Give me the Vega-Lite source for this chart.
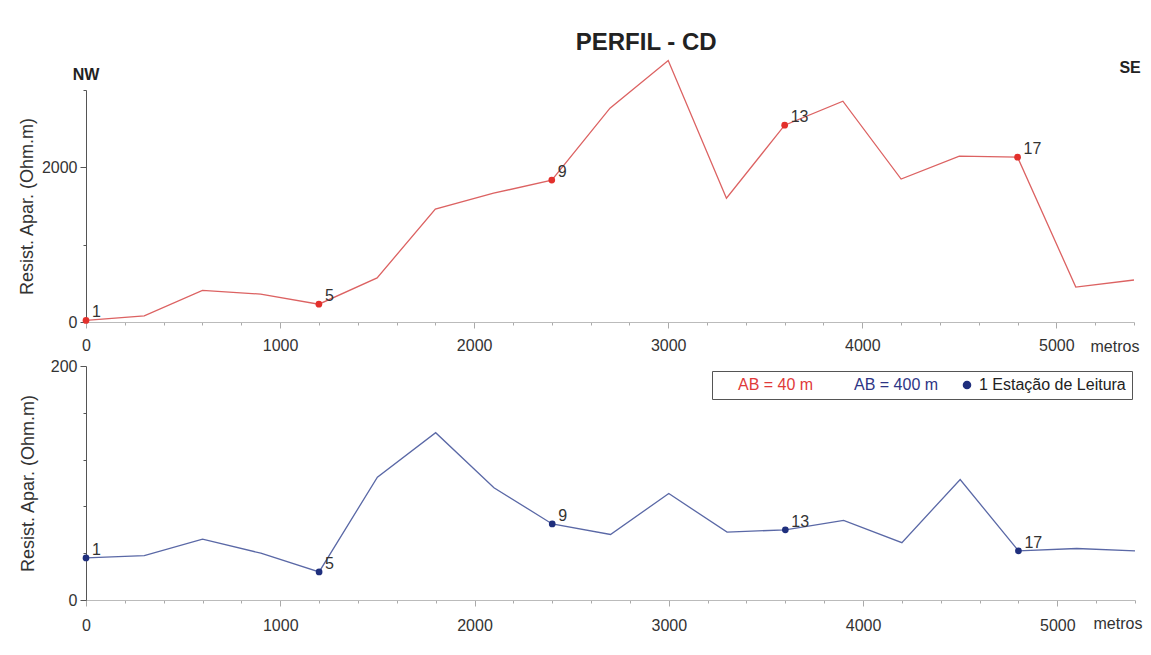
{
  "$schema": "https://vega.github.io/schema/vega-lite/v6.json",
  "padding": {"left": 18, "top": 31, "right": 5, "bottom": 10},
  "background": "white",
  "title": {"text": "PERFIL - CD", "fontSize": 24, "font": "Liberation Sans", "fontWeight": "bold", "color": "#222", "anchor": "middle", "dx": 66, "offset": 3},
  "datasets": {
    "perfil": [
      {"dist": 0, "ab40": 20, "ab400": 36, "station": "1"},
      {"dist": 300, "ab40": 80, "ab400": 38, "station": null},
      {"dist": 600, "ab40": 410, "ab400": 52, "station": null},
      {"dist": 900, "ab40": 360, "ab400": 40, "station": null},
      {"dist": 1200, "ab40": 230, "ab400": 24, "station": "5"},
      {"dist": 1500, "ab40": 570, "ab400": 105, "station": null},
      {"dist": 1800, "ab40": 1460, "ab400": 143, "station": null},
      {"dist": 2100, "ab40": 1665, "ab400": 96, "station": null},
      {"dist": 2400, "ab40": 1835, "ab400": 65, "station": "9"},
      {"dist": 2700, "ab40": 2765, "ab400": 56, "station": null},
      {"dist": 3000, "ab40": 3380, "ab400": 91, "station": null},
      {"dist": 3300, "ab40": 1600, "ab400": 58, "station": null},
      {"dist": 3600, "ab40": 2545, "ab400": 60, "station": "13"},
      {"dist": 3900, "ab40": 2855, "ab400": 68, "station": null},
      {"dist": 4200, "ab40": 1848, "ab400": 49, "station": null},
      {"dist": 4500, "ab40": 2145, "ab400": 103, "station": null},
      {"dist": 4800, "ab40": 2132, "ab400": 42, "station": "17"},
      {"dist": 5100, "ab40": 452, "ab400": 44, "station": null},
      {"dist": 5400, "ab40": 543, "ab400": 42, "station": null}
    ],
    "rumos": [
      {"label": "NW", "dist": 0, "ab40": 3190},
      {"label": "SE", "dist": 5380, "ab40": 3280}
    ]
  },
  "config": {
    "view": {"stroke": null},
    "font": "Liberation Sans",
    "axis": {"labelFont": "Liberation Sans", "labelFontSize": 16, "labelColor": "#333", "titleFont": "Liberation Sans", "grid": false}
  },
  "spacing": 4,
  "vconcat": [
    {
      "width": 1048,
      "height": 232,
      "data": {"name": "perfil"},
      "encoding": {
        "x": {
          "field": "dist", "type": "quantitative",
          "scale": {"domain": [0, 5400], "nice": false, "zero": false},
          "axis": {
            "title": "metros", "titleX": 1004, "titleY": 24, "titleAlign": "left", "titleBaseline": "middle",
            "titleFontSize": 16, "titleFontWeight": "normal", "titleColor": "#333",
            "values": [0,200,400,600,800,1000,1200,1400,1600,1800,2000,2200,2400,2600,2800,3000,3200,3400,3600,3800,4000,4200,4400,4600,4800,5000,5200,5400],
            "labelExpr": "datum.value % 1000 === 0 ? datum.label : ''",
            "format": "d", "domainColor": "#bbb", "tickColor": "#aaa",
            "tickSize": {"condition": {"test": "datum.value % 1000 === 0", "value": 6}, "value": 3},
            "labelPadding": 9, "labelFlush": false, "labelOverlap": false
          }
        }
      },
      "layer": [
        {
          "mark": {"type": "line", "strokeWidth": 1.3},
          "encoding": {
            "y": {
              "field": "ab40", "type": "quantitative",
              "scale": {"domain": [0, 3000], "nice": false},
              "axis": {
                "title": "Resist. Apar. (Ohm.m)", "titleFontSize": 18, "titleFontWeight": "normal", "titleColor": "#333", "titlePadding": 5,
                "values": [0, 500, 1000, 1500, 2000, 2500, 3000],
                "labelExpr": "datum.value % 2000 === 0 ? datum.label : ''",
                "format": "d", "domainColor": "#555", "tickColor": "#555",
                "tickSize": {"condition": {"test": "datum.value % 2000 === 0", "value": 6}, "value": 3},
                "labelPadding": 3, "labelOverlap": false
              }
            },
            "color": {
              "datum": "AB = 40 m",
              "scale": {"domain": ["AB = 40 m", "AB = 400 m", "1 Estação de Leitura"], "range": ["#dc6262", "#5a68a6", "#1f2f7d"]},
              "legend": {
                "orient": "none", "legendX": 626, "legendY": 281, "direction": "horizontal", "title": null,
                "symbolType": "circle", "symbolSize": 50, "labelFont": "Liberation Sans", "labelFontSize": 16,
                "strokeColor": "#555", "fillColor": "white", "padding": 6, "columnPadding": 20, "labelOffset": 4,
                "encode": {
                  "symbols": {"update": {"fill": {"value": "#1f2f7d"}, "stroke": {"value": "transparent"}, "opacity": {"signal": "datum.value === '1 Estação de Leitura' ? 1 : 0"}}},
                  "labels": {"update": {"fill": {"signal": "datum.value === 'AB = 40 m' ? '#e03a3a' : datum.value === 'AB = 400 m' ? '#2e3585' : '#222'"}}}
                }
              }
            }
          }
        },
        {
          "transform": [{"filter": "datum.station != null"}],
          "mark": {"type": "point", "filled": true, "size": 45, "color": "#e3302c", "opacity": 1},
          "encoding": {"y": {"field": "ab40", "type": "quantitative"}}
        },
        {
          "transform": [{"filter": "datum.station != null"}],
          "mark": {"type": "text", "align": "left", "baseline": "middle", "dx": 6, "dy": -8, "fontSize": 16, "color": "#333"},
          "encoding": {"y": {"field": "ab40", "type": "quantitative"}, "text": {"field": "station"}}
        },
        {
          "data": {"name": "rumos"},
          "mark": {"type": "text", "fontWeight": "bold", "fontSize": 16, "color": "#222", "baseline": "middle", "align": "center"},
          "encoding": {
            "x": {"field": "dist", "type": "quantitative"},
            "y": {"field": "ab40", "type": "quantitative"},
            "text": {"field": "label"}
          }
        }
      ]
    },
    {
      "width": 1049,
      "height": 234,
      "data": {"name": "perfil"},
      "encoding": {
        "x": {
          "field": "dist", "type": "quantitative",
          "scale": {"domain": [0, 5400], "nice": false, "zero": false},
          "axis": {
            "title": "metros", "titleX": 1007, "titleY": 23, "titleAlign": "left", "titleBaseline": "middle",
            "titleFontSize": 16, "titleFontWeight": "normal", "titleColor": "#333",
            "values": [0,200,400,600,800,1000,1200,1400,1600,1800,2000,2200,2400,2600,2800,3000,3200,3400,3600,3800,4000,4200,4400,4600,4800,5000,5200,5400],
            "labelExpr": "datum.value % 1000 === 0 ? datum.label : ''",
            "format": "d", "domainColor": "#bbb", "tickColor": "#aaa",
            "tickSize": {"condition": {"test": "datum.value % 1000 === 0", "value": 6}, "value": 3},
            "labelPadding": 11, "labelFlush": false, "labelOverlap": false
          }
        }
      },
      "layer": [
        {
          "mark": {"type": "line", "strokeWidth": 1.3},
          "encoding": {
            "y": {
              "field": "ab400", "type": "quantitative",
              "scale": {"domain": [0, 200], "nice": false},
              "axis": {
                "title": "Resist. Apar. (Ohm.m)", "titleFontSize": 18, "titleFontWeight": "normal", "titleColor": "#333", "titlePadding": 13,
                "values": [0, 20, 40, 60, 80, 100, 120, 140, 160, 180, 200],
                "labelExpr": "datum.value % 100 === 0 ? datum.label : ''",
                "format": "d", "domainColor": "#555", "tickColor": "#555",
                "tickSize": {"condition": {"test": "datum.value % 100 === 0", "value": 6}, "value": 3},
                "labelPadding": 3, "labelOverlap": false
              }
            },
            "color": {"datum": "AB = 400 m"}
          }
        },
        {
          "transform": [{"filter": "datum.station != null"}],
          "mark": {"type": "point", "filled": true, "size": 45, "opacity": 1},
          "encoding": {"y": {"field": "ab400", "type": "quantitative"}, "color": {"datum": "1 Estação de Leitura"}}
        },
        {
          "transform": [{"filter": "datum.station != null"}],
          "mark": {"type": "text", "align": "left", "baseline": "middle", "dx": 6, "dy": -8, "fontSize": 16, "color": "#333"},
          "encoding": {"y": {"field": "ab400", "type": "quantitative"}, "text": {"field": "station"}}
        }
      ]
    }
  ]
}
